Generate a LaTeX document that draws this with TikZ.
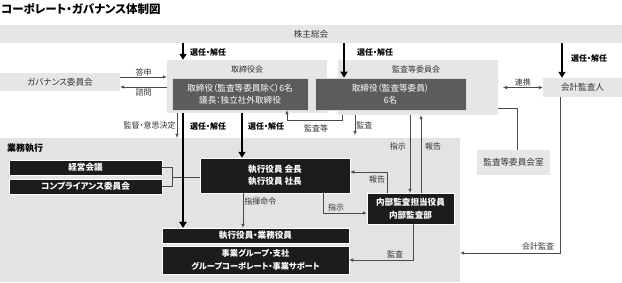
\documentclass[tikz,border=0pt]{standalone}
\usepackage{fontspec}
\setmainfont{Noto Sans CJK JP}[RawFeature=+palt]
\usetikzlibrary{positioning, arrows.meta}
\definecolor{cgband}{HTML}{E6E6E6}
\definecolor{cgarea}{HTML}{E3E3E3}
\definecolor{cgbod}{HTML}{5C5C5C}
\definecolor{cgblk}{HTML}{1C1C1C}
\definecolor{cgline}{HTML}{4A4A4A}
\definecolor{cgtext}{HTML}{333333}

\begin{document}
\begin{tikzpicture}[x=1pt, y=-1pt,
  lb/.style={fill=cgband, inner sep=0pt, text=cgtext, font=\fontsize{8.6}{10}\selectfont},
  db/.style={fill=cgbod, draw=white!85!black, line width=0.7pt, text=white, inner sep=0pt, align=center, font=\fontsize{8.6}{12.5}\selectfont},
  bk/.style={fill=cgblk, draw=white, line width=0.5pt, text=white, inner sep=0pt, align=center, font=\bfseries\fontsize{8.6}{12.5}\selectfont},
  lab/.style={text=cgtext, inner sep=1pt, font=\fontsize{8}{9}\selectfont},
  sel/.style={anchor=west, inner sep=1pt, font=\bfseries\fontsize{8}{9}\selectfont},
  big/.style={line width=2.4pt, -{Triangle[length=6pt, width=7pt]}},
  thin/.style={cgline, line width=0.6pt, -{Latex[length=4pt, width=3.5pt]}},
  plain/.style={cgline, line width=0.6pt}]
  \useasboundingbox (0,0) rectangle (622,282);

  \node[anchor=west, inner sep=0pt, font=\bfseries\fontsize{11.5}{13}\selectfont] (ttl) at (1,9) {コーポレート・ガバナンス体制図};

  % top row
  \node[lb, minimum width=622pt, minimum height=18pt] (kabu) at (311,34) {株主総会};
  \node[lb, minimum width=120pt, minimum height=18pt] (gov) at (60,82) {ガバナンス委員会};
  \node[lb, minimum width=160pt, minimum height=53pt] (bod) at (247,86.5) {};
  \node[lab] (bodt) at (247,69) {取締役会};
  \node[db, minimum width=136pt, minimum height=32pt] (bodx) at (240,94) {取締役（監査等委員除く）6名\\議長：独立社外取締役};
  \node[lb, minimum width=160pt, minimum height=55pt] (ac) at (418,87.5) {};
  \node[lab] (act) at (416,69) {監査等委員会};
  \node[db, minimum width=151pt, minimum height=32pt] (acx) at (390.5,94) {取締役（監査等委員）\\6名};
  \node[lb, minimum width=79pt, minimum height=19pt] (aud) at (582.5,87.5) {会計監査人};
  \node[lb, minimum width=73pt, minimum height=25pt] (acr) at (513.5,162.5) {監査等委員会室};

  % execution area
  \node[fill=cgarea, inner sep=0pt, minimum width=460pt, minimum height=144pt] (ex) at (230,210) {};
  \node[anchor=west, inner sep=0pt, font=\bfseries\fontsize{9}{10}\selectfont] (ext) at (7,148) {業務執行};
  \node[bk, minimum width=153pt, minimum height=15pt] (mtg) at (85.5,167.5) {経営会議};
  \node[bk, minimum width=153pt, minimum height=15pt] (cmp) at (85.5,186.5) {コンプライアンス委員会};
  \node[bk, minimum width=150pt, minimum height=35pt] (pres) at (275,175.5) {執行役員\ 会長\\執行役員\ 社長};
  \node[bk, minimum width=187pt, minimum height=15pt] (ofc) at (255.5,235.5) {執行役員・業務役員};
  \node[bk, minimum width=187pt, minimum height=28pt, font=\bfseries\fontsize{8.2}{12.5}\selectfont] (biz) at (255.5,260) {事業グループ・支社\\グループコーポレート・事業サポート};
  \node[bk, minimum width=87pt, minimum height=31pt] (ia) at (410.5,208.5) {内部監査担当役員\\内部監査部};

  % appointment
  \draw[big] (183,0 |- kabu.south) -- (183,0 |- bod.north);
  \node[sel] at (189,52) {選任・解任};
  \draw[big] (344,0 |- kabu.south) -- (344,0 |- acx.north);
  \node[sel] at (356,52) {選任・解任};
  \draw[big] (562,0 |- kabu.south) -- (562,0 |- aud.north);
  \node[sel] at (570,58) {選任・解任};
  \draw[big] (183,0 |- bod.south) -- (183,0 |- ofc.north);
  \node[sel] at (189,126) {選任・解任};
  \draw[big] (242,0 |- bod.south) -- (242,0 |- pres.north);
  \node[sel] at (247,126) {選任・解任};

  % board side
  \draw[thin] (gov.east |- 0,77) -- (bod.west |- 0,77) node[lab, midway, above] {答申};
  \draw[thin] (bod.west |- 0,87) -- (gov.east |- 0,87) node[lab, midway, below] {諮問};
  \draw[thin] (177,0 |- bod.south) -- (177,0 |- ex.north) node[lab, midway, left] {監督・意思決定};
  \draw[thin] (342,0 |- ac.south) -- (342,120) -- (287,120) -- (287,0 |- bodx.south);
  \node[lab] at (316,128) {監査等};
  \draw[thin] (355,0 |- ac.south) -- (355,135) node[lab, midway, right] {監査};
  \draw[thin] (410,0 |- ac.south) -- (410,0 |- ia.north);
  \node[lab, anchor=east] at (407,146) {指示};
  \draw[thin] (421,0 |- ia.north) -- (421,0 |- ac.south);
  \node[lab, anchor=west] at (424,146) {報告};
  \draw[thin, {Latex[length=4pt, width=3.5pt]}-{Latex[length=4pt, width=3.5pt]}] (503,0 |- aud.west) -- (aud.west) node[lab, midway, above] {連携};
  \draw[plain] (ac.east |- 0,108) -- (517,108) -- (517,0 |- acr.north);
  \draw[thin] (560,0 |- aud.south) -- (560,253) -- (ex.east |- 0,253);
  \node[lab] at (538,246) {会計監査};

  % execution side
  \draw[plain] (mtg.east) -- (172,0 |- mtg.east) -- (172,0 |- cmp.east) -- (cmp.east);
  \draw[plain] (172,177) -- (pres.west |- 0,177);
  \draw[big] (183,0 |- bod.south) -- (183,0 |- ofc.north);
  \draw[thin] (243,0 |- pres.south) -- (243,0 |- ofc.north) node[lab, pos=0.25, right] {指揮命令};
  \draw[thin] (387,0 |- ia.north) -- (387,172) -- (pres.east |- 0,172);
  \node[lab] at (377,179) {報告};
  \draw[thin] (323,0 |- pres.south) -- (323,213) -- (ia.west |- 0,213);
  \node[lab] at (336,207) {指示};
  \draw[thin] (413,0 |- ia.south) -- (413,260) -- (biz.east |- 0,260);
  \node[lab] at (395,254) {監査};
\end{tikzpicture}
\end{document}
